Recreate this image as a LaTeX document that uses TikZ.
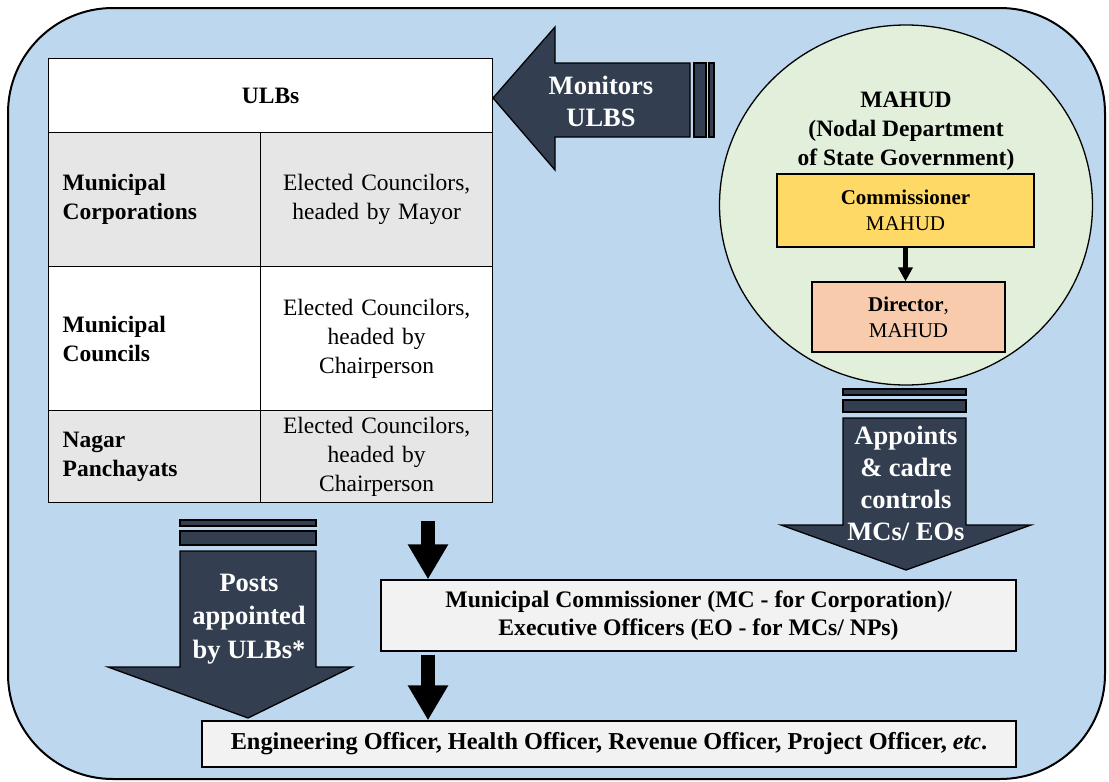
\documentclass[tikz,border=0pt]{standalone}
\usepackage{fontspec}
\setmainfont{Liberation Serif}
\usetikzlibrary{arrows.meta,shapes.geometric}
\definecolor{bgblue}{HTML}{BDD7EE}
\definecolor{navy}{HTML}{333F50}
\definecolor{lgreen}{HTML}{E2EFDA}
\definecolor{myyellow}{HTML}{FFD966}
\definecolor{salmon}{HTML}{F8CBAD}
\definecolor{tgrey}{HTML}{E6E6E6}
\definecolor{bgrey}{HTML}{F2F2F2}
\newcommand\fTbl{\fontsize{23.5pt}{29pt}\selectfont}
\newcommand\fBig{\fontsize{26.5pt}{32pt}\selectfont\bfseries}
\newcommand\fSmall{\fontsize{21pt}{26pt}\selectfont}
\tikzset{
  cellL/.style={draw=black, line width=1.3pt, anchor=north west, inner xsep=14pt, inner ysep=0pt,
    text width=184pt, minimum width=212pt, align=left, font=\fTbl\bfseries},
  cellR/.style={draw=black, line width=1.3pt, anchor=north west, inner xsep=14pt, inner ysep=0pt,
    text width=204pt, minimum width=232pt, align=center, font=\fTbl},
  blockarrow/.style={fill=navy, draw=black, line width=1.3pt, line join=miter},
  stripe/.style={fill=navy, draw=black, line width=1.3pt},
  bigtext/.style={text=white, align=center, font=\fBig, inner sep=0pt},
  graybox/.style={draw=black, line width=1.3pt, fill=bgrey, inner sep=0pt, align=center, font=\fTbl\bfseries},
  mahudbox/.style={draw=black, line width=1.3pt, inner sep=0pt, align=center, font=\fSmall},
  blk/.style={line width=14pt, -{Triangle[width=38pt,length=35pt]}},
  blksmall/.style={line width=5pt, -{Triangle[width=14pt,length=14pt]}}
}
\begin{document}
\begin{tikzpicture}[x=1pt,y=-1pt]
\useasboundingbox (0,0) rectangle (1109,782);
% background
\draw[line width=2pt, fill=bgblue, rounded corners=105pt] (8,8) rectangle (1105,779);

% ULBs table
\node[cellL, text width=416pt, minimum width=444pt, minimum height=74pt, fill=white, align=center] (hdr) at (48,58) {ULBs};
\node[cellL, minimum height=134pt, fill=tgrey] (r1a) at (48,132) {Municipal\\Corporations};
\node[cellR, minimum height=134pt, fill=tgrey] (r1b) at (260,132) {Elected Councilors,\\headed by Mayor};
\node[cellL, minimum height=144pt, fill=white] (r2a) at (48,266) {Municipal\\Councils};
\node[cellR, minimum height=144pt, fill=white] (r2b) at (260,266) {Elected Councilors,\\headed by\\Chairperson};
\node[cellL, minimum height=92pt, fill=tgrey] (r3a) at (48,410) {Nagar\\Panchayats};
\node[cellR, minimum height=92pt, fill=tgrey] (r3b) at (260,410) {Elected Councilors,\\headed by\\Chairperson};

% Monitors arrow
\draw[blockarrow] (493,98) -- (555,27) -- (555,63) -- (690,63) -- (690,137) -- (555,137) -- (555,170) -- cycle;
\draw[stripe] (694,63) rectangle (706,137);
\draw[stripe] (709,63) rectangle (714,137);
\node[bigtext] (mon) at (601,101) {Monitors\\ULBS};

% MAHUD ellipse
\node[ellipse, draw=black, line width=1.3pt, fill=lgreen, minimum width=373pt, minimum height=360pt] (mahud) at (906,205) {};
\node[align=center, font=\fTbl\bfseries, inner sep=0pt] (mtitle) at (906,131)
  {\fontsize{23.5pt}{27.5pt}\selectfont MAHUD\\(Nodal Department\\of State Government)};
\node[mahudbox, fill=myyellow, minimum width=257pt, minimum height=73pt] (comm) at (905.5,210.5) {\textbf{Commissioner}\\MAHUD};
\node[mahudbox, fill=salmon, minimum width=193pt, minimum height=70pt] (dir) at (908.5,317) {\textbf{Director},\\MAHUD};
\draw[blksmall] (comm.south) -- (comm.south |- dir.north);

% Appoints arrow
\draw[stripe] (843,389) rectangle (966,395);
\draw[stripe] (843,400) rectangle (966,412);
\draw[blockarrow] (843,418) -- (966,418) -- (966,525) -- (1031,525) -- (906,570) -- (781,525) -- (843,525) -- cycle;
\node[bigtext] (app) at (906,483) {Appoints\\\& cadre\\controls\\MCs/ EOs};

% Posts arrow
\draw[stripe] (180,520) rectangle (316,526);
\draw[stripe] (180,531) rectangle (316,545);
\draw[blockarrow] (180,551) -- (316,551) -- (316,667) -- (352,667) -- (248,718) -- (108,667) -- (180,667) -- cycle;
\node[bigtext, font=\fontsize{26.5pt}{33.5pt}\selectfont\bfseries] (posts) at (249,619) {Posts\\appointed\\by ULBs*};

% MC box
\node[graybox, minimum width=635pt, minimum height=71pt, font=\fontsize{23.7pt}{28pt}\selectfont\bfseries] (mc) at (698.5,615.5)
  {Municipal Commissioner (MC - for Corporation)/\\Executive Officers (EO - for MCs/ NPs)};
% Engineering box
\node[graybox, minimum width=814pt, minimum height=46pt, font=\fontsize{24.3pt}{29pt}\selectfont\bfseries] (eng) at (609,744)
  {Engineering Officer, Health Officer, Revenue Officer, Project Officer, \textit{etc}.};

% black arrows
\coordinate (a1s) at (428,521);
\draw[blk] (a1s) -- (mc.north -| a1s);
\draw[blk, shorten <=3pt] (mc.south -| a1s) -- (eng.north -| a1s);
\end{tikzpicture}
\end{document}
